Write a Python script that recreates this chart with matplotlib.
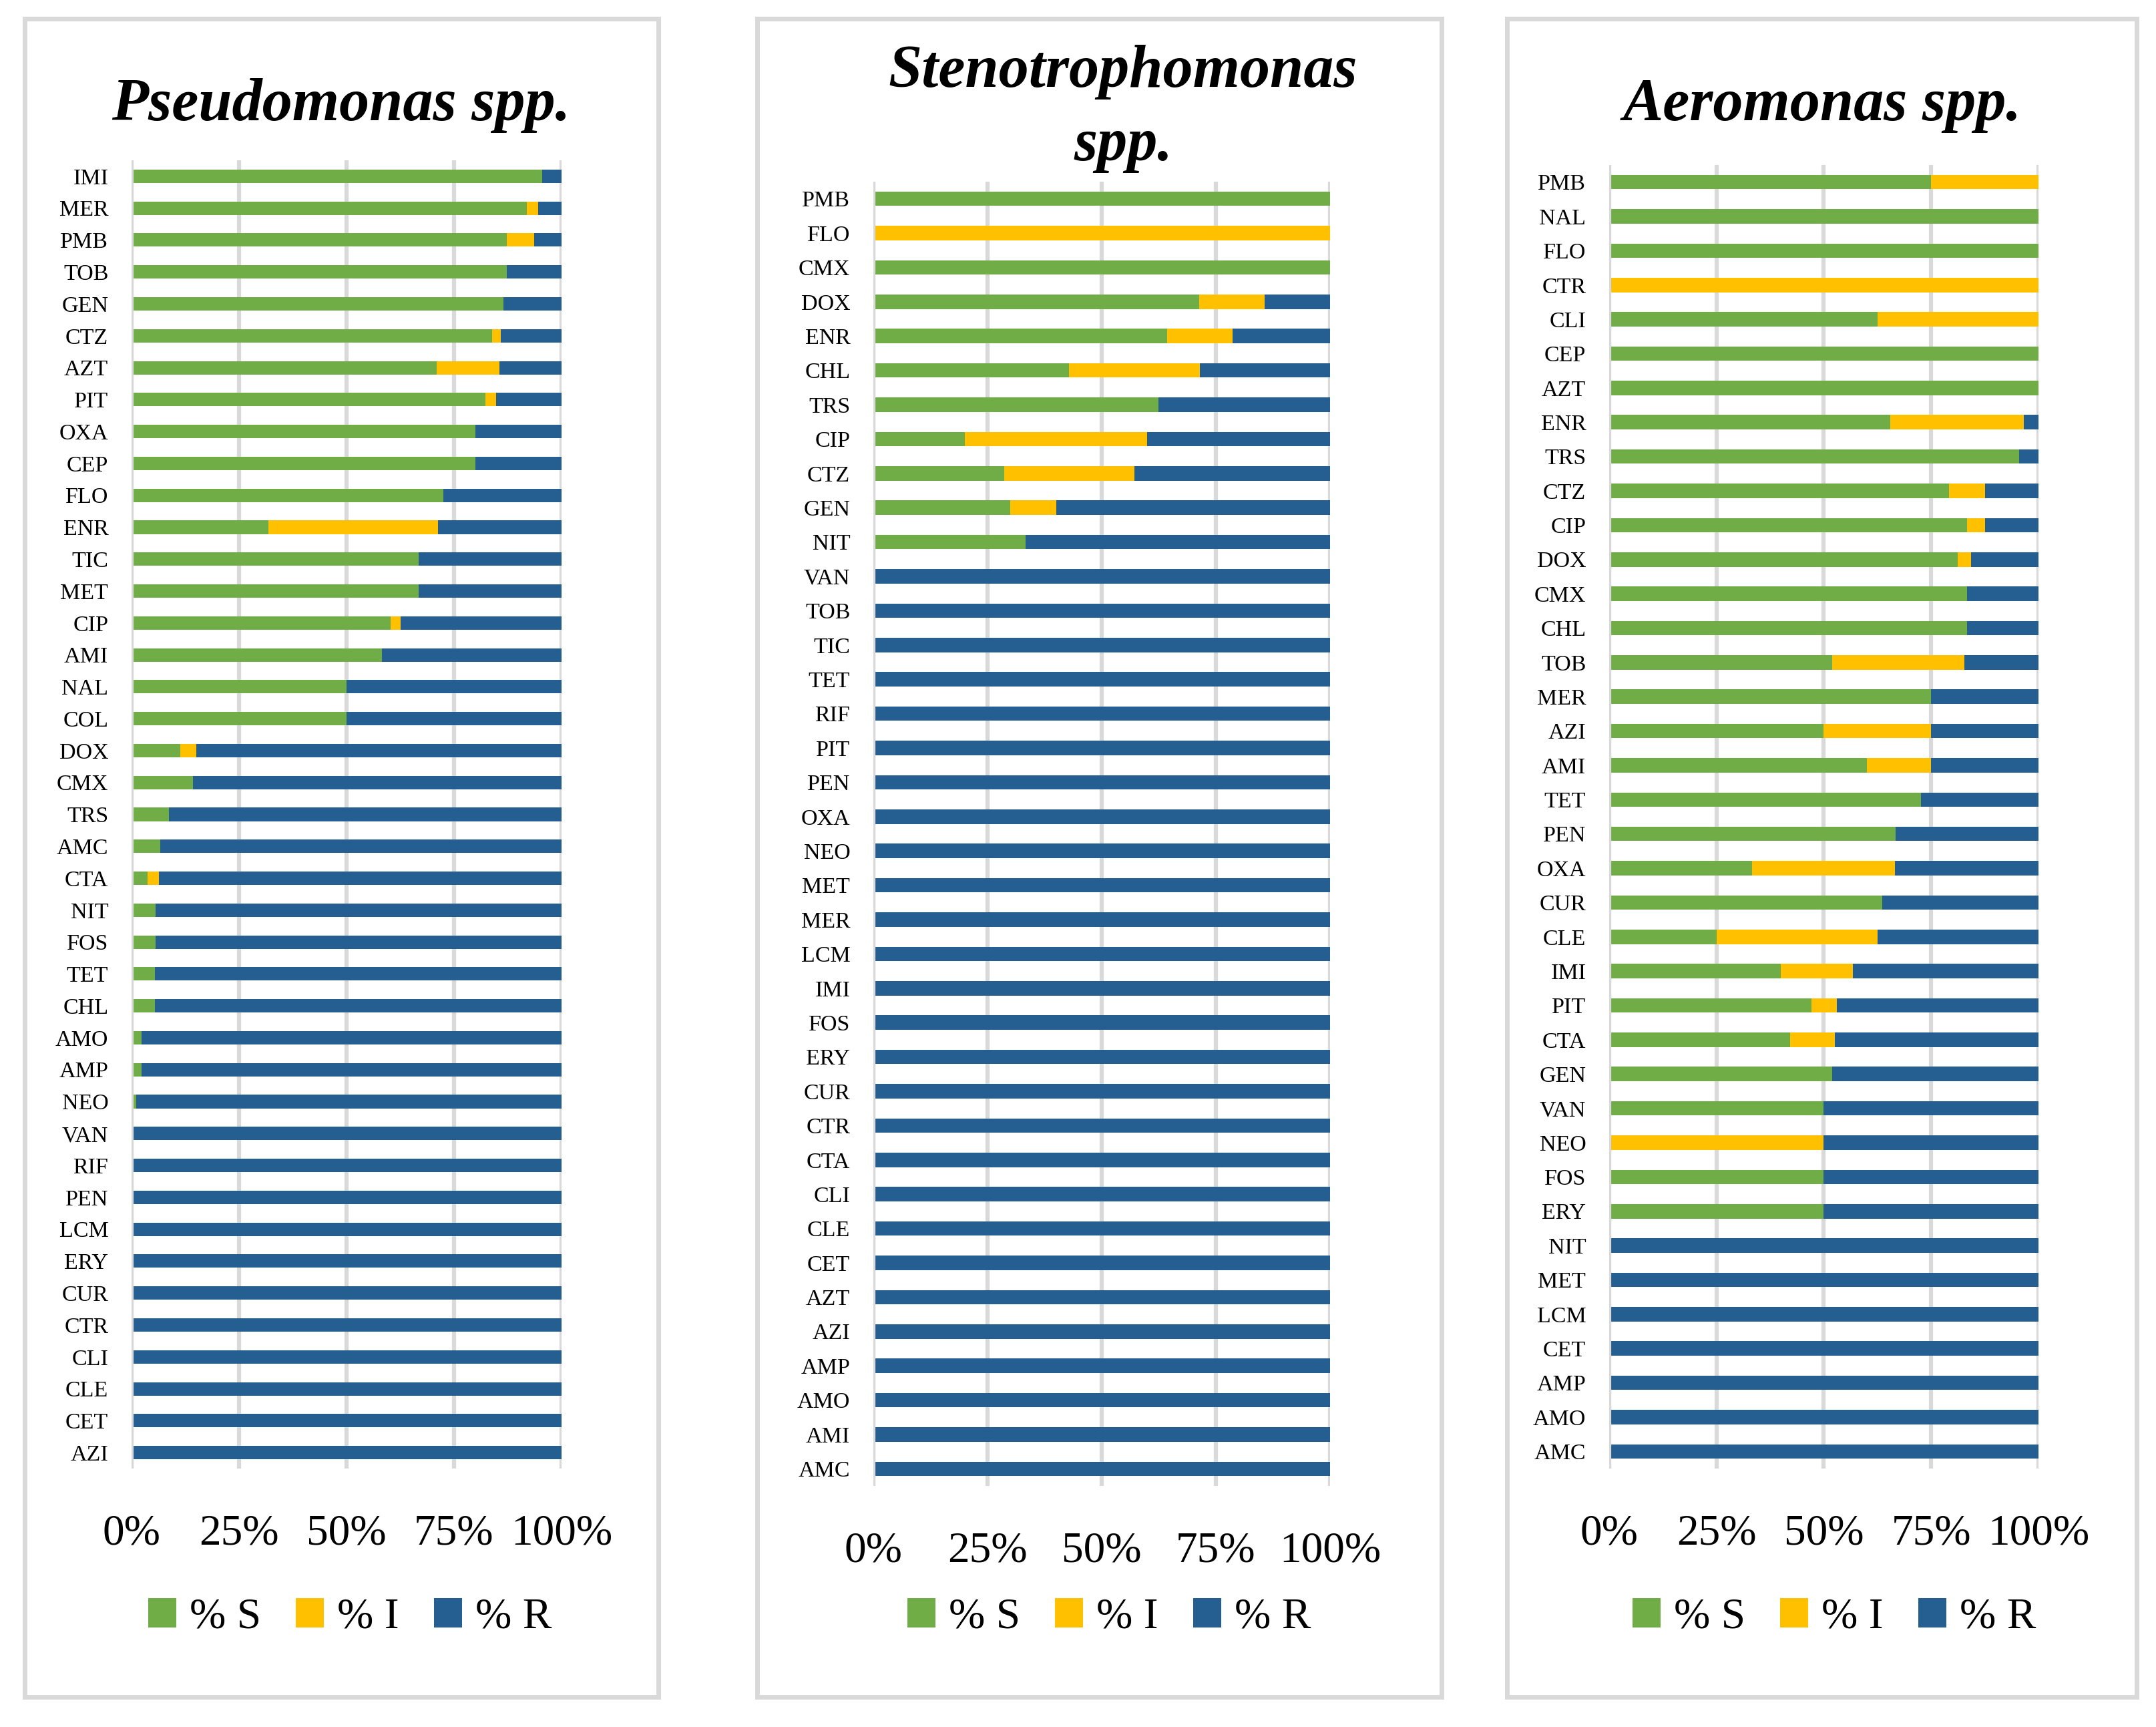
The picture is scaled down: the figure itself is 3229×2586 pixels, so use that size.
import numpy as np
import matplotlib
matplotlib.use("Agg")
import matplotlib.pyplot as plt
from matplotlib.patches import Rectangle

plt.rcParams['font.family'] = ['Liberation Serif', 'DejaVu Serif']

# ---- data (percent of isolates) ----
cats1 = ["IMI", "MER", "PMB", "TOB", "GEN", "CTZ", "AZT", "PIT", "OXA", "CEP", "FLO",
         "ENR", "TIC", "MET", "CIP", "AMI", "NAL", "COL", "DOX", "CMX", "TRS", "AMC",
         "CTA", "NIT", "FOS", "TET", "CHL", "AMO", "AMP", "NEO", "VAN", "RIF", "PEN",
         "LCM", "ERY", "CUR", "CTR", "CLI", "CLE", "CET", "AZI"]
s1 = [95.5, 92.0, 87.3, 87.3, 86.5, 83.9, 71.0, 82.3, 80.0, 80.0, 72.5,
      31.9, 66.7, 66.7, 60.3, 58.3, 50.0, 50.0, 11.3, 14.3, 8.7, 6.7,
      3.8, 5.6, 5.6, 5.4, 5.4, 2.4, 2.3, 1.1, 0, 0, 0,
      0, 0, 0, 0, 0, 0, 0, 0]
i1 = [0, 2.6, 6.3, 0, 0, 2.0, 14.5, 2.5, 0, 0, 0,
      39.3, 0, 0, 2.3, 0, 0, 0, 3.8, 0, 0, 0,
      2.6, 0, 0, 0, 0, 0, 0, 0, 0, 0, 0,
      0, 0, 0, 0, 0, 0, 0, 0]
r1 = [4.5, 5.4, 6.4, 12.7, 13.5, 14.1, 14.5, 15.2, 20.0, 20.0, 27.5,
      28.8, 33.3, 33.3, 37.4, 41.7, 50.0, 50.0, 84.9, 85.7, 91.3, 93.3,
      93.6, 94.4, 94.4, 94.6, 94.6, 97.6, 97.7, 98.9, 100, 100, 100,
      100, 100, 100, 100, 100, 100, 100, 100]

cats2 = ["PMB", "FLO", "CMX", "DOX", "ENR", "CHL", "TRS", "CIP", "CTZ", "GEN", "NIT",
         "VAN", "TOB", "TIC", "TET", "RIF", "PIT", "PEN", "OXA", "NEO", "MET", "MER",
         "LCM", "IMI", "FOS", "ERY", "CUR", "CTR", "CTA", "CLI", "CLE", "CET", "AZT",
         "AZI", "AMP", "AMO", "AMI", "AMC"]
s2 = [100, 0, 100, 71.4, 64.3, 42.9, 62.5, 20.0, 28.6, 30.0, 33.3] + [0] * 27
i2 = [0, 100, 0, 14.3, 14.3, 28.6, 0, 40.0, 28.6, 10.0, 0] + [0] * 27
r2 = [0, 0, 0, 14.3, 21.4, 28.5, 37.5, 40.0, 42.8, 60.0, 66.7] + [100] * 27

cats3 = ["PMB", "NAL", "FLO", "CTR", "CLI", "CEP", "AZT", "ENR", "TRS", "CTZ", "CIP",
         "DOX", "CMX", "CHL", "TOB", "MER", "AZI", "AMI", "TET", "PEN", "OXA", "CUR",
         "CLE", "IMI", "PIT", "CTA", "GEN", "VAN", "NEO", "FOS", "ERY", "NIT", "MET",
         "LCM", "CET", "AMP", "AMO", "AMC"]
s3 = [75.0, 100, 100, 0, 62.5, 100, 100, 65.5, 95.5, 79.2, 83.3,
      81.2, 83.3, 83.3, 51.9, 75.0, 50.0, 60.0, 72.7, 66.7, 33.3, 63.6,
      25.0, 40.0, 47.1, 42.1, 52.0, 50.0, 0, 50.0, 50.0, 0, 0,
      0, 0, 0, 0, 0]
i3 = [25.0, 0, 0, 100, 37.5, 0, 0, 31.1, 0, 8.3, 4.2,
      3.1, 0, 0, 30.8, 0, 25.0, 15.0, 0, 0, 33.3, 0,
      37.5, 16.7, 5.9, 10.5, 0, 0, 50.0, 0, 0, 0, 0,
      0, 0, 0, 0, 0]
r3 = [0, 0, 0, 0, 0, 0, 0, 3.4, 4.5, 12.5, 12.5,
      15.7, 16.7, 16.7, 17.3, 25.0, 25.0, 25.0, 27.3, 33.3, 33.4, 36.4,
      37.5, 43.3, 47.0, 47.4, 48.0, 50.0, 50.0, 50.0, 50.0, 100, 100,
      100, 100, 100, 100, 100]

titles = [["Pseudomonas spp."], ["Stenotrophomonas", "spp."], ["Aeromonas spp."]]
legend_labels = ["% S", "% I", "% R"]
xticks = [0, 25, 50, 75, 100]
xtick_labels = ["0%", "25%", "50%", "75%", "100%"]

col_s = "#70AD47"
col_i = "#FFC000"
col_r = "#255E91"
grid_col = "#D9D9D9"

W, H = 3230, 2586
fig = plt.figure(figsize=(W / 100, H / 100), dpi=100)


def fx(px):
    return px / W


def fy(py):
    return 1 - py / H


# pixel layout of each panel: axes box, outer frame, title, legend
panels = [
    dict(cats=cats1, s=s1, i=i1, r=r1, ax=(197, 240, 841, 2199),
         box=(37, 28, 986, 2541), tx=511, ty=[180], leg=(524, 2422)),
    dict(cats=cats2, s=s2, i=i2, r=r2, ax=(1308, 272, 1992, 2225),
         box=(1134, 28, 2159, 2541), tx=1682, ty=[130, 240], leg=(1661, 2422)),
    dict(cats=cats3, s=s3, i=i3, r=r3, ax=(2410, 247, 3053, 2199),
         box=(2257, 28, 3200, 2541), tx=2729, ty=[180], leg=(2747, 2422)),
]

for p, title in zip(panels, titles):
    x0, y0, x1, y1 = p["box"]
    fig.add_artist(Rectangle((fx(x0), fy(y1)), fx(x1 - x0), (y1 - y0) / H,
                             transform=fig.transFigure, fill=False,
                             edgecolor=grid_col, lw=5))

    a0, b0, a1, b1 = p["ax"]
    ax = fig.add_axes([fx(a0), fy(b1), fx(a1 - a0), (b1 - b0) / H])
    n = len(p["cats"])
    y = np.arange(n)
    s = np.array(p["s"])
    i = np.array(p["i"])
    r = np.array(p["r"])
    h = 0.42
    bs = ax.barh(y, s, height=h, color=col_s, label=legend_labels[0])
    bi = ax.barh(y, i, left=s, height=h, color=col_i, label=legend_labels[1])
    br = ax.barh(y, r, left=s + i, height=h, color=col_r, label=legend_labels[2])

    ax.set_ylim(n - 0.5, -0.5)
    ax.set_xlim(0, 100)
    ax.set_yticks(y)
    ax.set_yticklabels(p["cats"], fontsize=24.5)
    ax.set_xticks(xticks)
    ax.set_xticklabels(xtick_labels, fontsize=47)
    ax.tick_params(axis="y", length=0, pad=25)
    ax.tick_params(axis="x", length=0, pad=49)
    ax.set_axisbelow(True)
    ax.xaxis.grid(True, color=grid_col, lw=4.5)
    ax.axvline(0, color=grid_col, lw=4.5, zorder=3)
    for sp in ax.spines.values():
        sp.set_visible(False)

    for line, ty in zip(title, p["ty"]):
        fig.text(fx(p["tx"]), fy(ty), line, ha="center", va="baseline",
                 fontsize=65, fontweight="bold", fontstyle="italic")

    lx, ly = p["leg"]
    ax.legend(handles=[bs, bi, br], loc="center", bbox_to_anchor=(fx(lx), fy(ly)),
              bbox_transform=fig.transFigure, ncol=3, frameon=False, fontsize=47,
              handlelength=0.65, handleheight=0.65, handletextpad=0.3,
              columnspacing=0.8)

fig.savefig("out.png", dpi=100, facecolor="white")
